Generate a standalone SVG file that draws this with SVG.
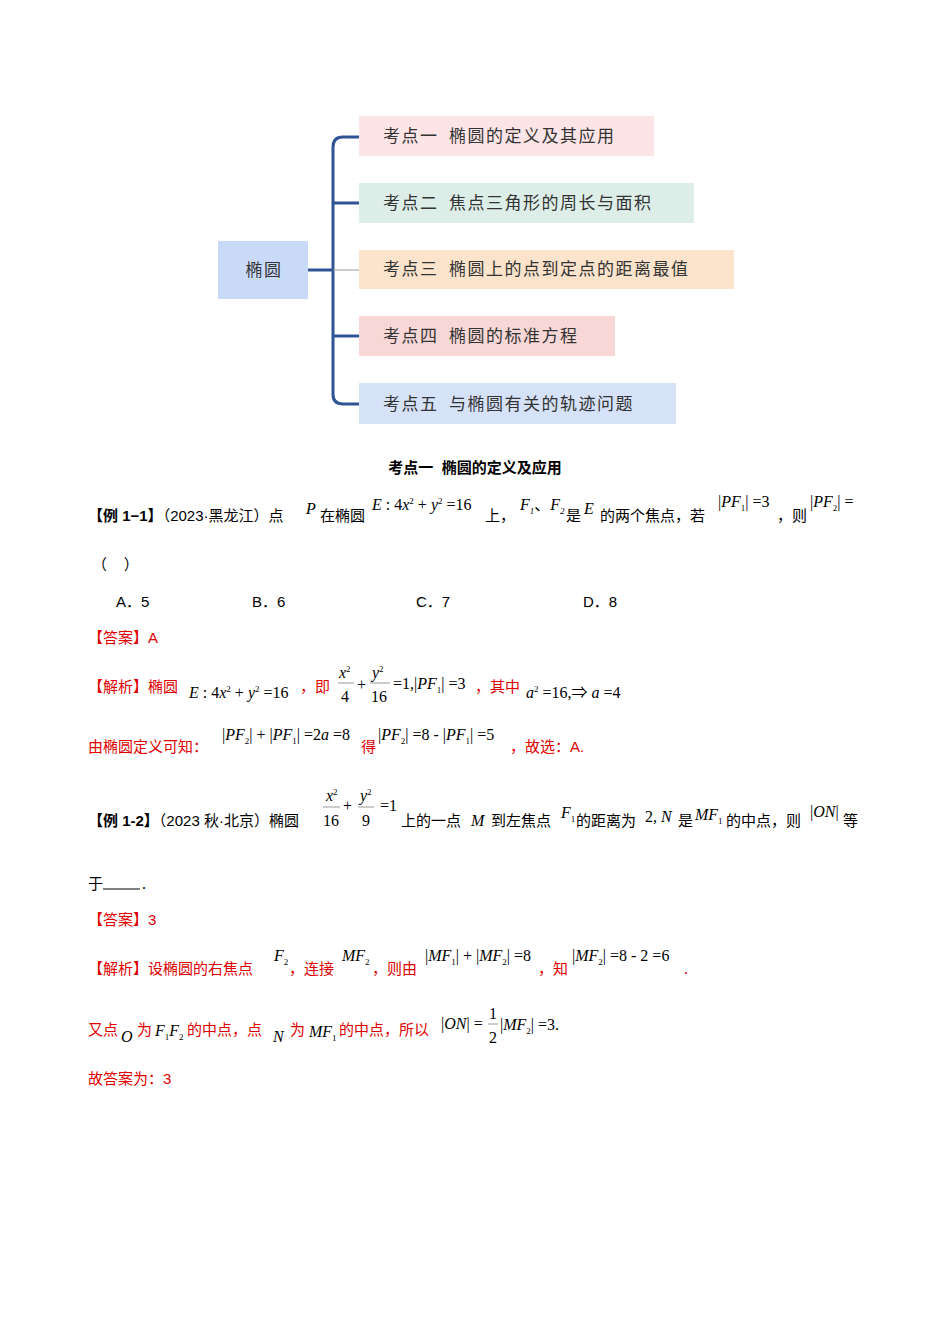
<svg xmlns="http://www.w3.org/2000/svg" width="950" height="1344" viewBox="0 0 950 1344">
<style>
text{font-family:"Liberation Serif","Noto Sans CJK SC",serif;font-size:16px;fill:#000}
.s{font-family:"Liberation Sans","Noto Sans CJK SC",sans-serif;font-size:15px}
.k{font-family:"Noto Sans CJK SC",sans-serif;font-size:17px;fill:#333;letter-spacing:1.5px;white-space:pre}
.r{fill:#e00000}
.i{font-style:italic}
.sub{font-size:9px}
.sup{font-size:9px}
.c{fill:none;stroke:#2f5496;stroke-width:3}
</style>
<rect width="950" height="1344" fill="#fff"/>
<g id="connectors">
<path class="c" d="M308 270 H333"/>
<path class="c" d="M359 137 H343 Q333 137 333 147 V394 Q333 404 343 404 H359"/>
<path class="c" d="M333 203 H359"/>
<path class="c" d="M333 336 H359"/>
<path d="M333 270 H359" stroke="#999" stroke-width="1"/>
</g>
<g id="root"><rect x="218" y="241" width="90" height="58" fill="#c9daf8"/><text class="k" x="264" y="276" text-anchor="middle">椭圆</text></g>
<g id="n1"><rect x="359" y="116" width="295" height="40" fill="#fde4e6"/><text class="k" x="383" y="142">考点一  椭圆的定义及其应用</text></g>
<g id="n2"><rect x="359" y="183" width="335" height="40" fill="#ddeee9"/><text class="k" x="383" y="209">考点二  焦点三角形的周长与面积</text></g>
<g id="n3"><rect x="359" y="250" width="375" height="39" fill="#fbe3cc"/><text class="k" x="383" y="275">考点三  椭圆上的点到定点的距离最值</text></g>
<g id="n4"><rect x="359" y="316" width="256" height="40" fill="#f8d7d7"/><text class="k" x="383" y="342">考点四  椭圆的标准方程</text></g>
<g id="n5"><rect x="359" y="383" width="317" height="41" fill="#d6e2f8"/><text class="k" x="383" y="410">考点五  与椭圆有关的轨迹问题</text></g>
<text class="s" x="475" y="473" text-anchor="middle" font-weight="bold" font-size="14" style="white-space:pre">考点一  椭圆的定义及应用</text>
<text x="88" y="521" class="s"><tspan font-weight="bold">【例 1−1】</tspan>（2023·黑龙江）点</text>
<text x="306" y="514" class="i">P</text><text x="320" y="521" class="s">在椭圆</text>
<text x="372" y="510"><tspan class="i">E</tspan> : 4<tspan class="i">x</tspan><tspan class="sup" dy="-6">2</tspan><tspan dy="6"> + </tspan><tspan class="i">y</tspan><tspan class="sup" dy="-6">2</tspan><tspan dy="6">  =16</tspan></text>
<text x="485" y="521" class="s">上，</text>
<text x="520" y="510" class="i">F<tspan class="sub" dy="4">1</tspan><tspan dy="-4" font-style="normal">、</tspan>F<tspan class="sub" dy="4">2</tspan></text>
<text x="566" y="521" class="s">是</text><text x="584" y="514" class="i">E</text><text x="600" y="521" class="s">的两个焦点，若</text>
<text x="718" y="507">|<tspan class="i">PF</tspan><tspan class="sub" dy="4">1</tspan><tspan dy="-4">| =3</tspan></text>
<text x="777" y="521" class="s">，则</text>
<text x="810" y="507">|<tspan class="i">PF</tspan><tspan class="sub" dy="4">2</tspan><tspan dy="-4">| =</tspan></text>
<text x="92" y="570" class="s" style="white-space:pre">（    ）</text>
<text x="116" y="607" class="s" font-size="14">A．5</text><text x="252" y="607" class="s" font-size="14">B．6</text>
<text x="416" y="607" class="s" font-size="14">C．7</text><text x="583" y="607" class="s" font-size="14">D．8</text>
<text x="88" y="643" class="s r">【答案】A</text>
<text x="88" y="692" class="s r">【解析】椭圆</text>
<text x="189" y="698"><tspan class="i">E</tspan> : 4<tspan class="i">x</tspan><tspan class="sup" dy="-6">2</tspan><tspan dy="6"> + </tspan><tspan class="i">y</tspan><tspan class="sup" dy="-6">2</tspan><tspan dy="6">  =16</tspan></text>
<text x="300" y="692" class="s r">，即</text>
<text x="339" y="678" class="i">x<tspan class="sup" dy="-6" font-style="normal">2</tspan></text>
<line x1="338" y1="683" x2="354" y2="683" stroke="#999"/><text x="341" y="702">4</text>
<text x="357" y="690">+</text>
<text x="372" y="678" class="i">y<tspan class="sup" dy="-6" font-style="normal">2</tspan></text>
<line x1="370" y1="683" x2="390" y2="683" stroke="#999"/><text x="371" y="702">16</text>
<text x="393" y="689">=1,|<tspan class="i">PF</tspan><tspan class="sub" dy="4">1</tspan><tspan dy="-4">| =3</tspan></text>
<text x="475" y="692" class="s r">，其中</text>
<text x="526" y="698"><tspan class="i">a</tspan><tspan class="sup" dy="-6">2</tspan><tspan dy="6">  =16,⇒  </tspan><tspan class="i">a</tspan> =4</text>
<text x="88" y="752" class="s r">由椭圆定义可知：</text>
<text x="222" y="740">|<tspan class="i">PF</tspan><tspan class="sub" dy="4">2</tspan><tspan dy="-4">| + |</tspan><tspan class="i">PF</tspan><tspan class="sub" dy="4">1</tspan><tspan dy="-4">| =2</tspan><tspan class="i">a</tspan> =8</text>
<text x="361" y="752" class="s r">得</text>
<text x="378" y="740">|<tspan class="i">PF</tspan><tspan class="sub" dy="4">2</tspan><tspan dy="-4">| =8 - |</tspan><tspan class="i">PF</tspan><tspan class="sub" dy="4">1</tspan><tspan dy="-4">| =5</tspan></text>
<text x="510" y="752" class="s r">，故选：A.</text>
<text x="88" y="826" class="s"><tspan font-weight="bold">【例 1-2】</tspan>（2023 秋·北京）椭圆</text>
<text x="326" y="801" class="i">x<tspan class="sup" dy="-6" font-style="normal">2</tspan></text>
<line x1="323" y1="807" x2="340" y2="807" stroke="#999"/><text x="323" y="826">16</text>
<text x="343" y="811">+</text>
<text x="360" y="801" class="i">y<tspan class="sup" dy="-6" font-style="normal">2</tspan></text>
<line x1="358" y1="807" x2="374" y2="807" stroke="#999"/><text x="362" y="826">9</text>
<text x="380" y="811">=1</text>
<text x="401" y="826" class="s">上的一点</text><text x="471" y="826" class="i">M</text>
<text x="491" y="826" class="s">到左焦点</text><text x="561" y="818" class="i">F<tspan class="sub" dy="4" font-style="normal">1</tspan></text>
<text x="576" y="826" class="s">的距离为</text><text x="645" y="822">2, <tspan class="i">N</tspan></text>
<text x="678" y="826" class="s">是</text><text x="695" y="820" class="i">MF<tspan class="sub" dy="4" font-style="normal">1</tspan></text>
<text x="726" y="826" class="s">的中点，则</text><text x="810" y="817">|<tspan class="i">ON</tspan>|</text>
<text x="843" y="826" class="s">等</text>
<text x="88" y="889" class="s">于</text><line x1="103" y1="889" x2="140" y2="889" stroke="#000"/><text x="142" y="889">.</text>
<text x="88" y="925" class="s r">【答案】3</text>
<text x="88" y="974" class="s r">【解析】设椭圆的右焦点</text>
<text x="274" y="961" class="i">F<tspan class="sub" dy="4" font-style="normal">2</tspan></text>
<text x="289" y="974" class="s r">，连接</text>
<text x="342" y="961" class="i">MF<tspan class="sub" dy="4" font-style="normal">2</tspan></text>
<text x="372" y="974" class="s r">，则由</text>
<text x="425" y="961">|<tspan class="i">MF</tspan><tspan class="sub" dy="4">1</tspan><tspan dy="-4">| + |</tspan><tspan class="i">MF</tspan><tspan class="sub" dy="4">2</tspan><tspan dy="-4">| =8</tspan></text>
<text x="538" y="974" class="s r">，知</text>
<text x="572" y="961">|<tspan class="i">MF</tspan><tspan class="sub" dy="4">2</tspan><tspan dy="-4">| =8 - 2 =6</tspan></text>
<text x="684" y="974" class="r">.</text>
<text x="88" y="1035" class="s r">又点</text><text x="121" y="1042" class="i">O</text>
<text x="137" y="1035" class="s r">为</text>
<text x="155" y="1036" class="i">F<tspan class="sub" dy="4" font-style="normal">1</tspan><tspan dy="-4">F</tspan><tspan class="sub" dy="4" font-style="normal">2</tspan></text>
<text x="187" y="1035" class="s r">的中点，点</text><text x="273" y="1042" class="i">N</text>
<text x="290" y="1035" class="s r">为</text>
<text x="309" y="1037" class="i">MF<tspan class="sub" dy="4" font-style="normal">1</tspan></text>
<text x="339" y="1035" class="s r">的中点，所以</text>
<text x="441" y="1029">|<tspan class="i">ON</tspan>| =</text>
<text x="489" y="1019">1</text><line x1="488" y1="1024" x2="498" y2="1024" stroke="#999"/><text x="489" y="1043">2</text>
<text x="500" y="1030">|<tspan class="i">MF</tspan><tspan class="sub" dy="4">2</tspan><tspan dy="-4">| =3.</tspan></text>
<text x="88" y="1084" class="s r">故答案为：3</text>
</svg>
